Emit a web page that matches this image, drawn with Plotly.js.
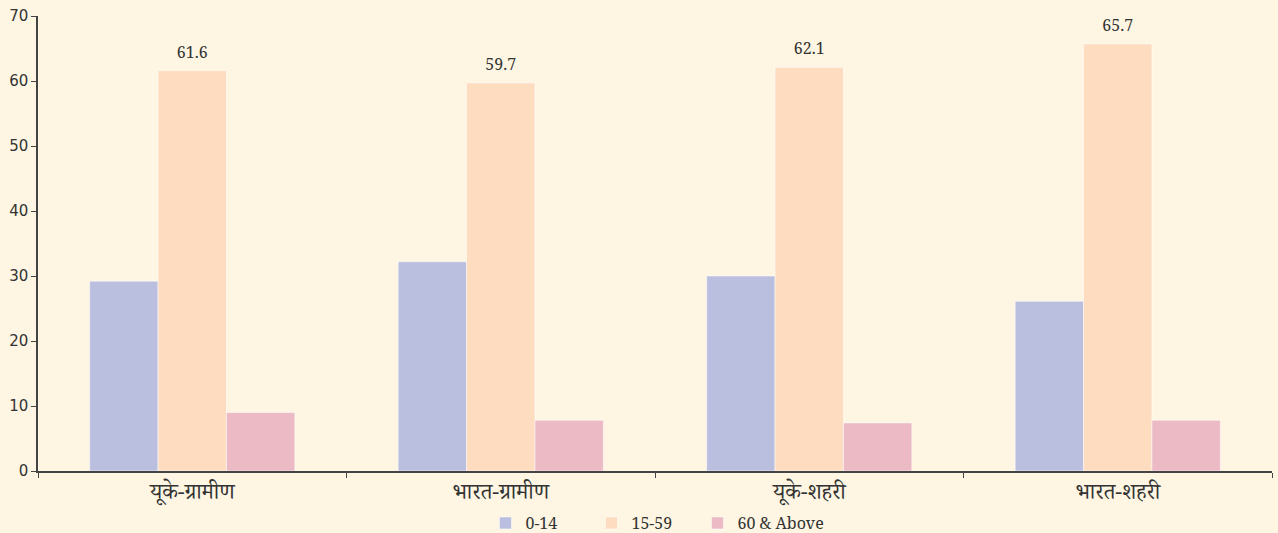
<!DOCTYPE html>
<html><head><meta charset="utf-8">
<script src="https://cdn.plot.ly/plotly-3.0.1.min.js"></script>
<style>html,body{margin:0;padding:0;background:#FEF6E2;}#chart{width:1278px;height:533px;}</style>
</head><body><div id="chart"></div>
<script>
const categories = ["यूके-ग्रामीण", "भारत-ग्रामीण", "यूके-शहरी", "भारत-शहरी"];
const age0to14 = [29.2, 32.2, 30.0, 26.1];
const age15to59 = [61.6, 59.7, 62.1, 65.7];
const age60plus = [9.0, 7.8, 7.4, 7.8];
const seriesNames = ["0-14", "15-59", "60 & Above"];

const font = "Noto Serif Devanagari, Noto Serif, Noto Sans Devanagari, serif";
const sansFont = "DejaVu Sans, Verdana, sans-serif";
const line = {color: "rgba(255,255,255,0.5)", width: 1};
const traces = [
  {type: "bar", name: seriesNames[0], x: categories, y: age0to14, marker: {color: "#BBBFDF", line: line}, legend: "legend"},
  {type: "bar", name: seriesNames[1], x: categories, y: age15to59, marker: {color: "#FDDCC0", line: line},
   text: age15to59.map(v => v.toFixed(1)), textposition: "outside", cliponaxis: false,
   textfont: {size: 16, color: "#333", family: font}, legend: "legend2"},
  {type: "bar", name: seriesNames[2], x: categories, y: age60plus, marker: {color: "#EBBAC5", line: line}, legend: "legend3"}
];
function leg(x) {
  return {orientation: "h", x: x, xanchor: "left", y: -0.077, yanchor: "top",
    font: {size: 16, color: "#333", family: font}, bgcolor: "rgba(0,0,0,0)"};
}
const layout = {
  width: 1278, height: 533,
  paper_bgcolor: "#FEF6E2", plot_bgcolor: "#FEF6E2",
  margin: {l: 38, r: 6, t: 16, b: 62, autoexpand: false},
  barmode: "group", bargap: 0.335, bargroupgap: 0,
  font: {family: font, color: "#333", size: 16},
  showlegend: true,
  legend: leg(0.3626), legend2: leg(0.4485), legend3: leg(0.5344),
  xaxis: {type: "category", showline: true, linecolor: "#444", linewidth: 1.5,
    ticks: "outside", tickson: "boundaries", ticklen: 5, tickcolor: "#444",
    tickfont: {size: 22, color: "#333", family: font}, showgrid: false, zeroline: false},
  yaxis: {range: [0, 70], dtick: 10, showline: true, linecolor: "#444", linewidth: 1.5,
    ticks: "outside", ticklen: 5, tickcolor: "#444", showgrid: false, zeroline: false,
    tickfont: {size: 15, color: "#333", family: sansFont}}
};
Plotly.newPlot("chart", traces, layout, {displayModeBar: false});
</script>
</body></html>
